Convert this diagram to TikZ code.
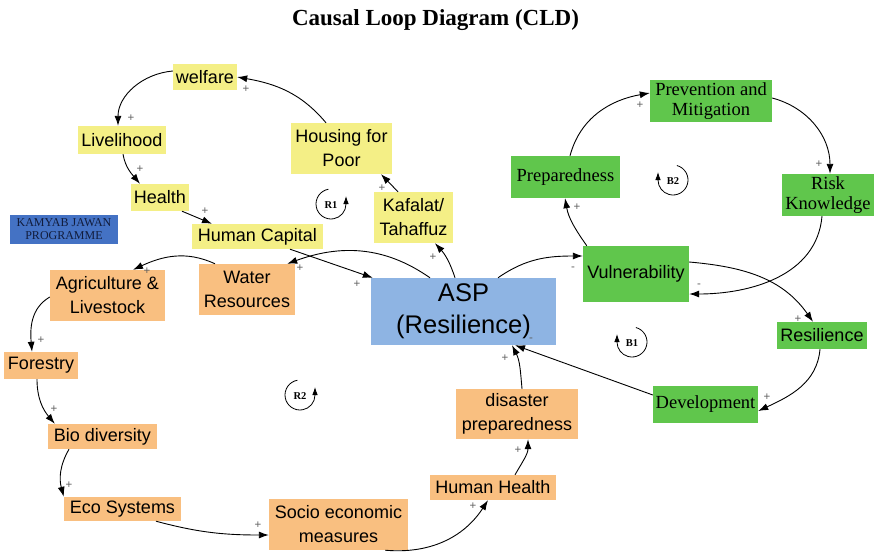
\documentclass[tikz,border=0pt]{standalone}
\usepackage{fontspec}
\setmainfont{Liberation Serif}
\newfontfamily\sansfam{Liberation Sans}
\usetikzlibrary{arrows.meta}

\definecolor{cldyellow}{HTML}{F4EF86}
\definecolor{cldorange}{HTML}{F9BF80}
\definecolor{cldgreen}{HTML}{60C64C}
\definecolor{cldblue}{HTML}{8EB4E3}
\definecolor{kjblue}{HTML}{4472C4}
\definecolor{kjtext}{HTML}{111C3C}
\definecolor{polgray}{HTML}{606060}

\tikzset{
  var/.style={inner sep=0pt, align=center, font=\sansfam\fontsize{18}{24}\selectfont},
  vyel/.style={var, fill=cldyellow},
  vorg/.style={var, fill=cldorange},
  vgrn/.style={var, fill=cldgreen},
  vgrnserif/.style={vgrn, font=\fontsize{18.5}{20}\selectfont},
  box/.style 2 args={minimum width=#1, minimum height=#2},
  link/.style={line width=0.9pt, -{Latex[length=10pt,width=7pt]}},
  pol/.style={font=\sansfam\fontsize{11.5}{11.5}\selectfont, text=polgray, inner sep=0pt},
  loopmark/.style={line width=0.8pt, -{Latex[length=8pt,width=5.5pt]}},
  looplabel/.style={font=\bfseries\fontsize{10.5}{10.5}\selectfont, inner sep=0pt},
}

\begin{document}
\begin{tikzpicture}[x=1pt,y=1pt]
\useasboundingbox (0,0) rectangle (874,-551);

% title
\node[font=\bfseries\fontsize{23}{23}\selectfont, inner sep=0pt, anchor=base] (title) at (435.5,-26) {Causal Loop Diagram (CLD)};

% R1 loop: social welfare chain
\node[vyel, box={64pt}{26pt}]   (welfare) at (205,-77)     {welfare};
\node[vyel, box={88pt}{28pt}]   (liv)     at (122,-140)    {Livelihood};
\node[vyel, box={58pt}{27pt}]   (health)  at (160,-197.5)  {Health};
\node[vyel, box={131pt}{25pt}]  (humcap)  at (257.5,-236.5){Human Capital};
\node[vyel, box={101pt}{51pt}]  (housing) at (341.5,-148.5){Housing for\\Poor};
\node[vyel, box={79pt}{51pt}]   (kafalat) at (413.5,-217.5){Kafalat/\\Tahaffuz};

% programme tag
\node[fill=kjblue, box={108pt}{29pt}, inner sep=0pt, align=center, text=kjtext,
      font=\fontsize{12}{13}\selectfont] (kamyab) at (64,-229.5) {KAMYAB JAWAN\\PROGRAMME};

% central variable
\node[fill=cldblue, box={185pt}{67pt}, inner sep=0pt, align=center,
      font=\sansfam\fontsize{25.5}{32}\selectfont] (asp) at (463.5,-311.5) {ASP\\(Resilience)};

% R2 loop: environment chain
\node[vorg, box={96pt}{51pt}]   (water)    at (247,-289.5)  {Water\\Resources};
\node[vorg, box={115pt}{51pt}]  (agri)     at (107.5,-295.5){Agriculture \&\\Livestock};
\node[vorg, box={74pt}{27pt}]   (forestry) at (41,-365.5)   {Forestry};
\node[vorg, box={109pt}{25pt}]  (bio)      at (102.5,-436.5){Bio diversity};
\node[vorg, box={117pt}{24pt}]  (eco)      at (122.5,-509)  {Eco Systems};
\node[vorg, box={139pt}{51pt}]  (socio)    at (338.5,-524.5){Socio economic\\measures};
\node[vorg, box={126pt}{25pt}]  (hhealth)  at (493,-487.5)  {Human Health};
\node[vorg, box={122pt}{50pt}]  (disaster) at (517,-414)    {disaster\\preparedness};

% B1 / B2 loops: risk chain
\node[vgrn, box={106pt}{56pt}]       (vuln)  at (636,-274)    {Vulnerability};
\node[vgrnserif, box={109pt}{42pt}]  (prep)  at (565.5,-177)  {Preparedness};
\node[vgrnserif, box={122pt}{42pt}]  (prev)  at (711,-101)    {Prevention and\\Mitigation};
\node[vgrnserif, box={92pt}{42pt}]   (risk)  at (828,-195)    {Risk\\Knowledge};
\node[vgrn, box={90pt}{27pt}]        (resil) at (822,-335.5)  {Resilience};
\node[vgrnserif, box={105pt}{37pt}]  (devel) at (705.5,-404.5){Development};

% causal links
\draw[link] ([xshift=-15.5pt]housing.north) to[out=130,in=-10] (welfare.east);
\draw[link] ([yshift=6pt]welfare.west) to[out=185,in=90] ([xshift=-4pt]liv.north);
\draw[link] ([xshift=1pt]liv.south) to[out=-80,in=130] ([xshift=-20pt]health.north);
\draw[link] ([xshift=22pt]health.south) -- ([xshift=-45.5pt]humcap.north);
\draw[link] ([xshift=32.5pt]humcap.south) -- ([xshift=2pt]asp.north west);
\draw[link] ([xshift=-15.5pt]kafalat.north) -- ([xshift=39.5pt]housing.south);
\draw[link] ([xshift=-8.5pt]asp.north) to[bend right=12] ([xshift=21.5pt]kafalat.south);
\draw[link] ([xshift=-33.5pt]asp.north) to[out=145,in=20] ([xshift=-8pt]water.north east);
\draw[link] ([xshift=-32pt]water.north) to[out=155,in=25] ([xshift=25.5pt]agri.north);
\draw[link] ([yshift=-1.5pt]agri.west) to[out=210,in=95] ([xshift=-9pt]forestry.north);
\draw[link] ([xshift=-4pt]forestry.south) to[out=-90,in=130] ([xshift=7pt]bio.north west);
\draw[link] ([xshift=-33.5pt]bio.south) to[out=240,in=105] (eco.north west);
\draw[link] ([xshift=33.5pt]eco.south) to[out=-15,in=180] ([yshift=-10.5pt]socio.west);
\draw[link] ([xshift=-23pt]socio.south east) to[out=-5,in=-123] ([xshift=-5pt]hhealth.south);
\draw[link] ([xshift=22pt]hhealth.north) to[out=60,in=-90] ([xshift=11pt]disaster.south);
\draw[link] ([xshift=5pt]disaster.north) to[out=95,in=-63] ([xshift=48.5pt]asp.south);
\draw[link] ([xshift=34.5pt]asp.north) to[out=35,in=180] ([yshift=18pt]vuln.west);
\draw[link] ([xshift=4pt]vuln.north west) to[out=125,in=-80] ([xshift=-0.5pt]prep.south);
\draw[link] ([xshift=4.5pt]prep.north) to[out=75,in=190] ([yshift=8pt]prev.west);
\draw[link] ([yshift=3pt]prev.east) to[out=-15,in=90] ([xshift=2pt]risk.north);
\draw[link] ([xshift=-6pt]risk.south) to[out=-95,in=0] ([yshift=-20pt]vuln.east);
\draw[link] ([yshift=12pt]vuln.east) to[out=-5,in=125] ([xshift=-9pt]resil.north);
\draw[link] ([xshift=-2pt]resil.south) to[out=-95,in=25] ([yshift=-6.5pt]devel.east);
\draw[link] ([yshift=9.5pt]devel.west) -- ([xshift=51.5pt]asp.south);

% link polarities
\node[pol] (p1)  at (246,-89)  {+};
\node[pol] (p2)  at (131,-118) {+};
\node[pol] (p3)  at (140,-169) {+};
\node[pol] (p4)  at (205,-211) {+};
\node[pol] (p5)  at (357,-284) {+};
\node[pol] (p6)  at (382,-188) {+};
\node[pol] (p7)  at (433,-257) {+};
\node[pol] (p8)  at (300,-268) {+};
\node[pol] (p9)  at (147,-271) {+};
\node[pol] (p10) at (41,-340)  {+};
\node[pol] (p11) at (54,-409)  {+};
\node[pol] (p12) at (69,-485)  {+};
\node[pol] (p13) at (258,-525) {+};
\node[pol] (p14) at (473,-506) {+};
\node[pol] (p15) at (518,-450) {+};
\node[pol] (p16) at (505,-358) {+};
\node[pol] (p17) at (573,-269) {-};
\node[pol] (p18) at (577,-207) {+};
\node[pol] (p19) at (640,-105) {+};
\node[pol] (p20) at (819,-164) {+};
\node[pol] (p21) at (699,-286) {-};
\node[pol] (p22) at (798,-319) {+};
\node[pol] (p23) at (767,-397) {+};
\node[pol] (p24) at (531,-340) {-};

% loop markers
\draw[loopmark] (331,-204) ++(100:15) arc[start angle=100,end angle=360,radius=15] -- ++(0,8);
\node[looplabel] (r1) at (331,-205) {R1};
\draw[loopmark] (300,-395) ++(100:15) arc[start angle=100,end angle=360,radius=15] -- ++(0,8);
\node[looplabel] (r2) at (300,-396) {R2};
\draw[loopmark] (673,-180) ++(75:15) arc[start angle=75,end angle=-180,radius=15] -- ++(0,8);
\node[looplabel] (b2) at (673,-181) {B2};
\draw[loopmark] (632,-342) ++(75:15) arc[start angle=75,end angle=-180,radius=15] -- ++(0,8);
\node[looplabel] (b1) at (632,-343) {B1};
\end{tikzpicture}
\end{document}
